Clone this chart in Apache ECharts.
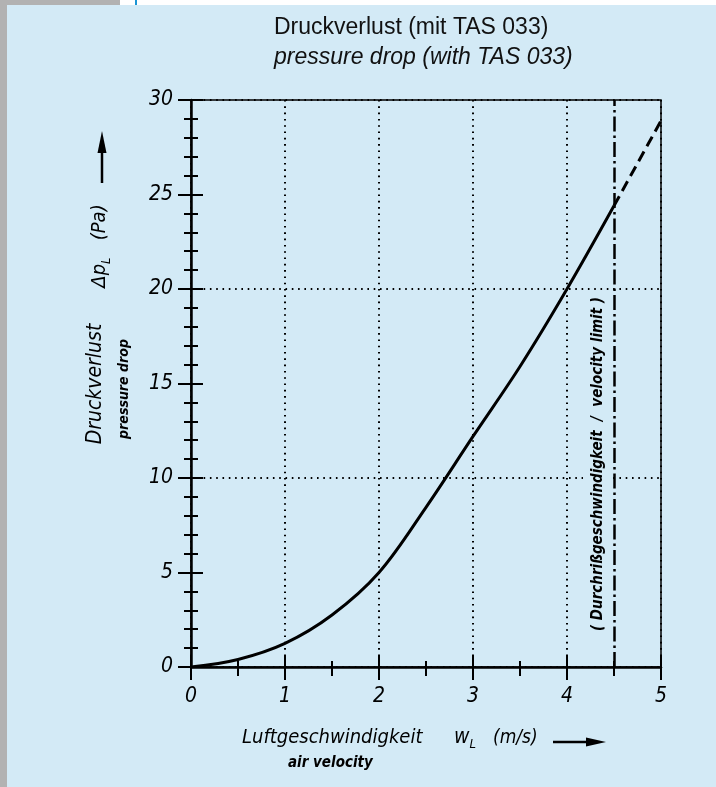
<!DOCTYPE html>
<html>
<head>
<meta charset="utf-8">
<script src="https://cdn.jsdelivr.net/npm/echarts@6/dist/echarts.min.js"></script>
<style>
  html, body { margin: 0; padding: 0; }
  body { width: 716px; height: 787px; background: #d3eaf6; position: relative; overflow: hidden; }
  #leftStrip { position: absolute; left: 0; top: 0; width: 7px; height: 787px; background: #b2b2b2; }
  #topGray { position: absolute; left: 0; top: 0; width: 120px; height: 5px; background: #b2b2b2; }
  #topWhite { position: absolute; left: 120px; top: 0; width: 596px; height: 5px; background: #ffffff; }
  #topBlue { position: absolute; left: 135px; top: 0; width: 2px; height: 5px; background: #1a95d5; }
  #chart { position: absolute; left: 0; top: 0; width: 716px; height: 787px; }
</style>
</head>
<body>
<div id="leftStrip"></div>
<div id="topGray"></div>
<div id="topWhite"></div>
<div id="topBlue"></div>
<div id="chart"></div>
<script>
// ---- data ----
const velocity = [0, 0.5, 1, 1.5, 2, 2.5, 3, 3.5, 4, 4.5];          // air velocity w_L (m/s)
const pressureDrop = [0, 0.4, 1.25, 2.75, 5.0, 8.45, 12.2, 15.9, 20, 24.4]; // Δp_L (Pa)
const velocityExtrapolated = [4.5, 5];
const pressureDropExtrapolated = [24.4, 28.9];
const velocityLimit = 4.5;
const xTickLabels = ['0', '1', '2', '3', '4', '5'];
const yTickLabels = ['0', '5', '10', '15', '20', '25', '30'];

const titleMain = 'Druckverlust (mit TAS 033)';
const titleSub = 'pressure drop (with TAS 033)';
const limitText = '( Durchrißgeschwindigkeit  /  velocity limit )';

// ---- chart ----
const FONT = '"DejaVu Sans Condensed", "Liberation Sans Narrow", "Liberation Sans", sans-serif';
const BG = '#d3eaf6';
const dotted = { color: '#000', width: 2, type: [1.6, 4.7] };

const chart = echarts.init(document.getElementById('chart'), null, { renderer: 'canvas' });

function zip(a, b) { return a.map((v, i) => [v, b[i]]); }

const option = {
  backgroundColor: 'transparent',
  animation: false,
  title: {
    text: titleMain,
    subtext: titleSub,
    left: 269,
    top: 11,
    itemGap: 7,
    textStyle: { fontFamily: 'Liberation Sans, Arial, sans-serif', fontSize: 23, fontWeight: 'normal', color: '#111' },
    subtextStyle: { fontFamily: 'Liberation Sans, Arial, sans-serif', fontSize: 23, fontStyle: 'italic', color: '#111' }
  },
  grid: {
    left: 191, right: 55, top: 100, bottom: 120,
    show: true, borderColor: '#000', borderWidth: 1.5, backgroundColor: 'transparent'
  },
  xAxis: [
    {
      type: 'value', min: 0, max: 5, interval: 1, position: 'bottom',
      axisLine: { show: true, onZero: false, lineStyle: { color: '#000', width: 2.5 } },
      axisTick: { show: true, inside: false, length: 13, lineStyle: { color: '#000', width: 2 } },
      minorTick: { show: true, splitNumber: 2, length: 9, lineStyle: { color: '#000', width: 2 } },
      axisLabel: {
        margin: 19, color: '#000', fontSize: 21, fontStyle: 'italic', fontFamily: FONT,
        formatter: (v) => xTickLabels[Math.round(v)] ?? ''
      },
      splitLine: { show: true, lineStyle: dotted },
      minorSplitLine: { show: false }
    },
    {
      type: 'value', min: 0, max: 5, interval: 1, position: 'bottom',
      axisLine: { show: false, onZero: false },
      axisTick: { show: true, inside: true, length: 12, lineStyle: { color: '#000', width: 2 } },
      minorTick: { show: true, splitNumber: 2, length: 6, lineStyle: { color: '#000', width: 2 } },
      axisLabel: { show: false },
      splitLine: { show: false }
    }
  ],
  yAxis: [
    {
      type: 'value', min: 0, max: 30, interval: 5, position: 'left',
      axisLine: { show: true, onZero: false, lineStyle: { color: '#000', width: 2.5 } },
      axisTick: { show: true, inside: false, length: 13, lineStyle: { color: '#000', width: 2 } },
      minorTick: { show: true, splitNumber: 5, length: 7, lineStyle: { color: '#000', width: 2 } },
      axisLabel: {
        margin: 18, color: '#000', fontSize: 21, fontStyle: 'italic', fontFamily: FONT,
        formatter: (v) => yTickLabels[Math.round(v / 5)] ?? ''
      },
      splitLine: { show: false }
    },
    {
      type: 'value', min: 0, max: 30, interval: 5, position: 'left',
      axisLine: { show: false, onZero: false },
      axisTick: { show: true, inside: true, length: 12, lineStyle: { color: '#000', width: 2 } },
      minorTick: { show: true, splitNumber: 5, length: 7, lineStyle: { color: '#000', width: 2 } },
      axisLabel: { show: false },
      splitLine: { show: false }
    },
    {
      type: 'value', min: 0, max: 30, interval: 10, position: 'left',
      axisLine: { show: false, onZero: false },
      axisTick: { show: false },
      axisLabel: { show: false },
      splitLine: { show: true, lineStyle: dotted }
    }
  ],
  series: [
    {
      name: 'pressure drop',
      type: 'line',
      xAxisIndex: 0, yAxisIndex: 0,
      data: zip(velocity, pressureDrop),
      smooth: 0.35,
      symbol: 'none',
      lineStyle: { color: '#000', width: 3 },
      z: 5,
      markLine: {
        silent: true,
        symbol: ['none', 'none'],
        label: { show: false },
        lineStyle: { color: '#000', width: 2.5, type: [15, 4, 2.5, 4] },
        data: [{ xAxis: velocityLimit }],
        z: 12
      }
    },
    {
      name: 'pressure drop (extrapolated)',
      type: 'line',
      xAxisIndex: 0, yAxisIndex: 0,
      data: zip(velocityExtrapolated, pressureDropExtrapolated),
      symbol: 'none',
      lineStyle: { color: '#000', width: 3, type: [11, 6] },
      z: 5
    }
  ],
  graphic: [
    // rotated annotation for the velocity limit
    {
      type: 'text', x: 598, y: 464, rotation: Math.PI / 2, z: 3,
      style: {
        text: limitText, fill: '#000', font: 'italic bold 15px ' + FONT,
        textAlign: 'center', textVerticalAlign: 'middle',
        backgroundColor: BG, padding: [14, 0, 1, 0]
      }
    },
    // y axis title
    {
      type: 'text', x: 96, y: 384, rotation: Math.PI / 2,
      style: { text: 'Druckverlust', fill: '#000', font: 'italic 21px ' + FONT, textAlign: 'center', textVerticalAlign: 'middle' }
    },
    {
      type: 'text', x: 124, y: 389, rotation: Math.PI / 2,
      style: { text: 'pressure drop', fill: '#000', font: 'italic bold 14px ' + FONT, textAlign: 'center', textVerticalAlign: 'middle' }
    },
    {
      type: 'text', x: 100, y: 246, rotation: Math.PI / 2,
      style: {
        text: '{m|Δp}{s|L}{m|   (Pa)}', fill: '#000', textAlign: 'center', textVerticalAlign: 'middle',
        rich: {
          m: { fontSize: 20, fontStyle: 'italic', fontFamily: FONT, lineHeight: 30, verticalAlign: 'middle' },
          s: { fontSize: 13, fontStyle: 'italic', fontFamily: FONT, lineHeight: 14, verticalAlign: 'bottom', padding: [0, 0, 2, 0] }
        }
      }
    },
    { type: 'line', shape: { x1: 102, y1: 183, x2: 102, y2: 148 }, style: { stroke: '#000', lineWidth: 2.5 } },
    { type: 'polygon', shape: { points: [[102, 131], [97.5, 153], [106.5, 153]] }, style: { fill: '#000' } },
    // x axis title
    {
      type: 'text', x: 242, y: 738,
      style: { text: 'Luftgeschwindigkeit', fill: '#000', font: 'italic 20px ' + FONT, textAlign: 'left', textVerticalAlign: 'middle' }
    },
    {
      type: 'text', x: 454, y: 738,
      style: {
        text: '{m|w}{s|L}', fill: '#000', textAlign: 'left', textVerticalAlign: 'middle',
        rich: {
          m: { fontSize: 21, fontStyle: 'italic', fontFamily: FONT, lineHeight: 30, verticalAlign: 'middle' },
          s: { fontSize: 13, fontStyle: 'italic', fontFamily: FONT, lineHeight: 14, verticalAlign: 'bottom', padding: [0, 0, 2, 0] }
        }
      }
    },
    {
      type: 'text', x: 493, y: 738,
      style: { text: '(m/s)', fill: '#000', font: 'italic 19px ' + FONT, textAlign: 'left', textVerticalAlign: 'middle' }
    },
    { type: 'line', shape: { x1: 553, y1: 742, x2: 590, y2: 742 }, style: { stroke: '#000', lineWidth: 2.5 } },
    { type: 'polygon', shape: { points: [[606, 742], [586, 737.5], [586, 746.5]] }, style: { fill: '#000' } },
    {
      type: 'text', x: 288, y: 763,
      style: { text: 'air velocity', fill: '#000', font: 'italic bold 15px ' + FONT, textAlign: 'left', textVerticalAlign: 'middle' }
    }
  ]
};

chart.setOption(option);
</script>
</body>
</html>
